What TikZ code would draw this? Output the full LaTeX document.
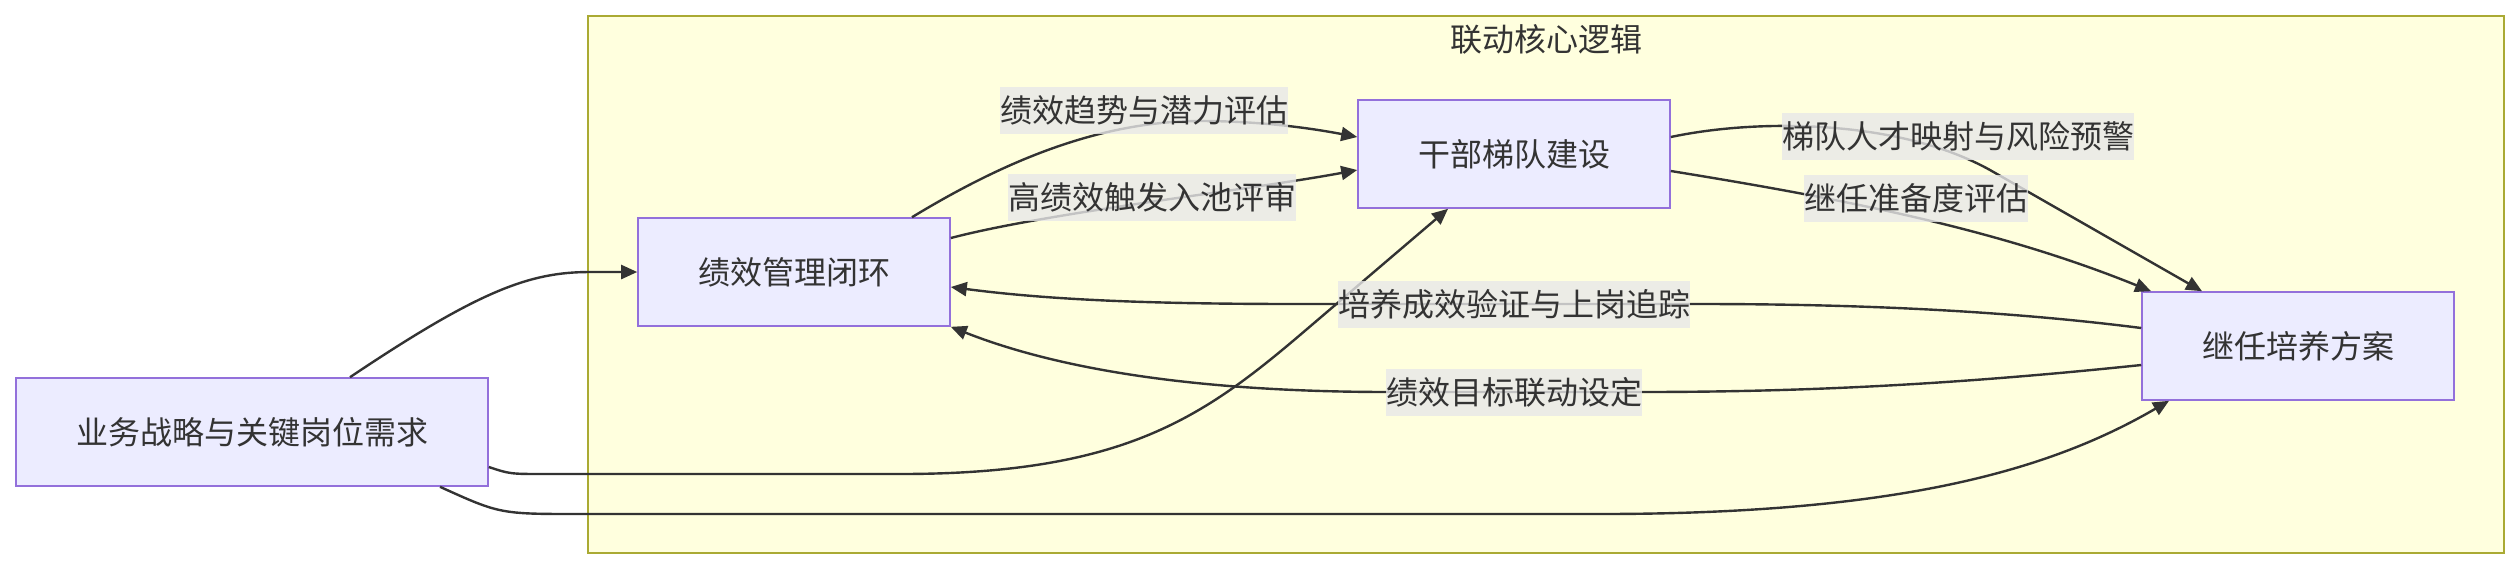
\documentclass[tikz,border=0pt]{standalone}
\usepackage{fontspec}
\newfontfamily\cjk{Noto Sans CJK SC}
\usetikzlibrary{arrows.meta,calc}
\definecolor{boxfill}{HTML}{ECECFF}
\definecolor{boxline}{HTML}{9370DB}
\definecolor{grpfill}{HTML}{FFFFDE}
\definecolor{grpline}{HTML}{AAAA33}
\definecolor{lblfill}{HTML}{E8E8E8}
\definecolor{ink}{HTML}{333333}
\begin{document}
\begin{tikzpicture}[x=0.5pt,y=-0.5pt,
  every node/.style={font=\cjk\fontsize{16}{19}\selectfont, text=ink},
  box/.style={draw=boxline, line width=0.8pt, fill=boxfill, minimum width=156pt, minimum height=54pt, inner sep=0pt},
  lbl/.style={fill=lblfill, fill opacity=0.8, text opacity=1, inner xsep=0pt, inner ysep=0pt, minimum height=23.5pt},
  link/.style={draw=ink, line width=1.2pt, -{Triangle[length=8pt,width=7pt]}}]
\useasboundingbox (0,0) rectangle (2520,570);
\draw[draw=grpline, line width=1pt, fill=grpfill] (588,16) rectangle (2504,553);
\node (title) at (1546,39) {联动核心逻辑};
\node[box, minimum width=236pt] (demand) at (252,432) {业务战略与关键岗位需求};
\node[box] (perf) at (794,272) {绩效管理闭环};
\node[box] (cadre) at (1514,154) {干部梯队建设};
\node[box] (succ) at (2298,346) {继任培养方案};
\draw[link] ($(demand.north)+(98,0)$) .. controls (480,290) and (530,272) .. (590,272) -- (perf.west);
\draw[link] ($(demand.east)+(0,35)$) .. controls (510,474) .. (545,474) -- (900,474) .. controls (1120,474) and (1200,420) .. (1300,335) -- ($(cadre.south)+(-66,0)$);
\draw[link] ($(demand.south)+(188,0)$) .. controls (500,514) .. (580,514) -- (1600,514) .. controls (1900,514) and (2050,470) .. ($(succ.south)+(-129,0)$);
\draw[link] ($(perf.north)+(118,0)$) .. controls (990,170) and (1090,121) .. (1200,121) .. controls (1260,121) and (1310,128) .. ($(cadre.west)+(0,-17)$);
\draw[link] ($(perf.east)+(0,-34)$) .. controls (1050,212) and (1250,190) .. ($(cadre.west)+(0,16)$);
\draw[link] ($(cadre.east)+(0,-17)$) .. controls (1760,118) and (1900,120) .. (1990,170) -- ($(succ.north)+(-96,0)$);
\draw[link] ($(cadre.east)+(0,17)$) .. controls (1850,200) and (2000,230) .. ($(succ.north)+(-147,0)$);
\draw[link] ($(succ.west)+(0,-18)$) .. controls (2000,310) and (1850,304) .. (1700,304) -- (1300,304) .. controls (1150,304) and (1050,300) .. ($(perf.east)+(0,15)$);
\draw[link] ($(succ.west)+(0,19)$) .. controls (1950,385) and (1800,392) .. (1640,392) -- (1390,392) .. controls (1200,392) and (1060,370) .. (perf.south east);
\node[lbl] (trend) at (1144,110) {绩效趋势与潜力评估};
\node[lbl] (pool) at (1152,197) {高绩效触发入池评审};
\node[lbl] (risk) at (1958,136) {梯队人才映射与风险预警};
\node[lbl] (ready) at (1916,198) {继任准备度评估};
\node[lbl] (track) at (1514,304) {培养成效验证与上岗追踪};
\node[lbl] (goal) at (1514,392) {绩效目标联动设定};
\end{tikzpicture}
\end{document}
